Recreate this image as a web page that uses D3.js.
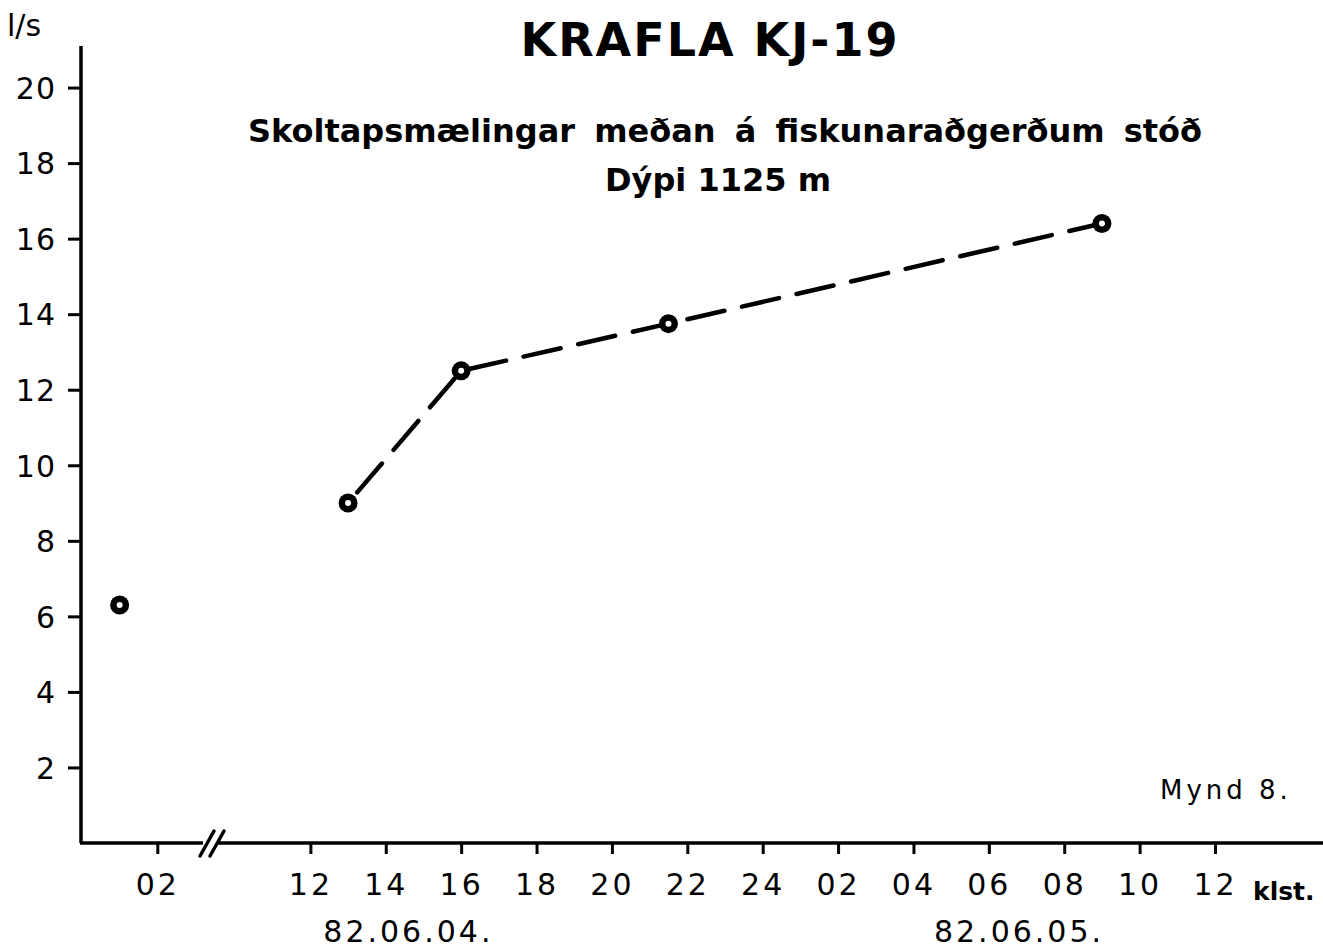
<!DOCTYPE html>
<html>
<head>
<meta charset="utf-8">
<script src="https://cdn.jsdelivr.net/npm/d3@7"></script>
<style>
  body { margin: 0; background: #fff; }
  svg text { font-family: "DejaVu Sans", sans-serif; fill: #000; }
</style>
</head>
<body>
<div id="chart"></div>
<script>
// Data: hours counted from midnight 82.06.04 (first point before the axis break)
const hours = [1, 13, 16, 21.5, 33];
const flow = [6.3, 9.0, 12.5, 13.75, 16.4];
// Points joined by the dashed line (index into the arrays above)
const joined = [1, 2, 3, 4];

const yTicks = [2, 4, 6, 8, 10, 12, 14, 16, 18, 20];
const xTickHours = [2, 12, 14, 16, 18, 20, 22, 24, 26, 28, 30, 32, 34, 36];
const xTickLabels = ["02", "12", "14", "16", "18", "20", "22", "24", "02", "04", "06", "08", "10", "12"];
const dateLabels = ["82.06.04.", "82.06.05."];
const dateHours = [14.6, 30.8];

const width = 1323, height = 949;

const svg = d3.select("#chart").append("svg")
  .attr("width", width)
  .attr("height", height);

// Broken time axis: 0-3.4 h, then 10-38.6 h
const x = d3.scaleLinear()
  .domain([0, 3.4, 10, 38.6])
  .range([82, 210, 235, 1313]);

const y = d3.scaleLinear()
  .domain([0, 21.1])
  .range([843, 46]);

// Y axis
const yAxis = d3.axisLeft(y)
  .tickValues(yTicks)
  .tickSize(13)
  .tickPadding(12)
  .tickSizeOuter(0);

const gy = svg.append("g")
  .attr("transform", "translate(81,0)")
  .call(yAxis)
  .attr("font-size", null)
  .attr("font-family", null);
gy.select(".domain").attr("stroke", "#000").attr("stroke-width", 3.5)
  .attr("d", `M0,${y(21.1)}V${y(0)}`);
gy.selectAll(".tick line").attr("stroke", "#000").attr("stroke-width", 3);
gy.selectAll(".tick text")
  .style("font-size", "30px")
  .style("letter-spacing", "1px")
  .attr("dy", "0.36em");

// X axis
const xAxis = d3.axisBottom(x)
  .tickValues(xTickHours)
  .tickFormat((d, i) => xTickLabels[i])
  .tickSize(11)
  .tickPadding(20)
  .tickSizeOuter(0);

const gx = svg.append("g")
  .attr("transform", `translate(0,${y(0)})`)
  .call(xAxis)
  .attr("font-size", null)
  .attr("font-family", null);
gx.select(".domain").attr("stroke", "#000").attr("stroke-width", 3.5)
  .attr("d", `M80,0H${width}`);
gx.selectAll(".tick line").attr("stroke", "#000").attr("stroke-width", 3);
gx.selectAll(".tick text")
  .style("font-size", "30px")
  .style("letter-spacing", "3px");

// Axis break mark
const bx = 213;
svg.append("rect")
  .attr("x", bx - 10).attr("y", y(0) - 4)
  .attr("width", 14).attr("height", 8)
  .attr("fill", "#fff");
[-6, 4].forEach(off => {
  svg.append("line")
    .attr("x1", bx + off - 7).attr("y1", y(0) + 13)
    .attr("x2", bx + off + 7).attr("y2", y(0) - 12)
    .attr("stroke", "#000").attr("stroke-width", 3.5)
    .attr("stroke-linecap", "round");
});

// Date labels
svg.selectAll(".date").data(dateLabels).enter().append("text")
  .attr("class", "date")
  .attr("x", (d, i) => x(dateHours[i]))
  .attr("y", 942)
  .attr("text-anchor", "middle")
  .style("font-size", "30px")
  .style("letter-spacing", "3px")
  .text(d => d);

// Unit labels
svg.append("text")
  .attr("x", 1253).attr("y", y(0) + 57)
  .style("font-size", "25px")
  .style("font-weight", "bold")
  .text("klst.");

svg.append("text")
  .attr("x", 7).attr("y", 36)
  .style("font-size", "30px")
  .text("l/s");

// Titles
svg.append("text")
  .attr("x", 710).attr("y", 56)
  .attr("text-anchor", "middle")
  .style("font-size", "46px")
  .style("font-weight", "bold")
  .style("letter-spacing", "2px")
  .text("KRAFLA  KJ-19");

svg.append("text")
  .attr("x", 725).attr("y", 142)
  .attr("text-anchor", "middle")
  .style("font-size", "32px")
  .style("font-weight", "bold")
  .style("word-spacing", "8px")
  .text("Skoltapsmælingar  meðan  á  fiskunaraðgerðum  stóð");

svg.append("text")
  .attr("x", 718).attr("y", 191)
  .attr("text-anchor", "middle")
  .style("font-size", "32px")
  .style("font-weight", "bold")
  .text("Dýpi  1125 m");

svg.append("text")
  .attr("x", 1160).attr("y", 799)
  .style("font-size", "26px")
  .style("letter-spacing", "4px")
  .text("Mynd  8.");

// Dashed line
const line = d3.line()
  .x(i => x(hours[i]))
  .y(i => y(flow[i]));

svg.append("path")
  .attr("d", line(joined))
  .attr("fill", "none")
  .attr("stroke", "#000")
  .attr("stroke-width", 4.5)
  .attr("stroke-linecap", "round")
  .attr("stroke-dasharray", "38,18")
  .attr("stroke-dashoffset", -14);

// Markers
const pts = svg.selectAll(".pt").data(hours).enter().append("g")
  .attr("transform", (d, i) => `translate(${x(d)},${y(flow[i])})`);
pts.append("circle").attr("r", 9.5).attr("fill", "#000");
pts.append("circle").attr("r", 3).attr("fill", "#fff");
</script>
</body>
</html>
